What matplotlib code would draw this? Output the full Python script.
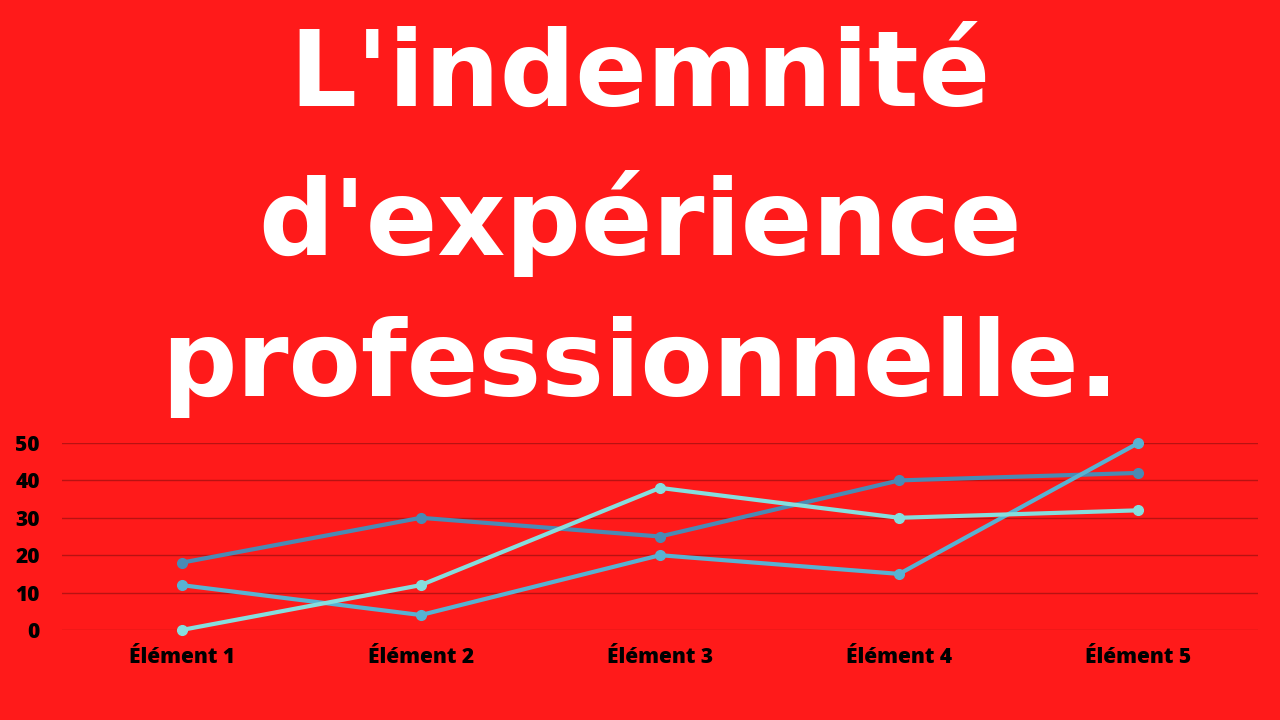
import matplotlib.pyplot as plt
import numpy as np

# couleurs
fond = "#ff1a1a"
grille = "#b81212"

# données
categories = ["Élément 1", "Élément 2", "Élément 3", "Élément 4", "Élément 5"]
serie1 = [18, 30, 25, 40, 42]
serie2 = [12, 4, 20, 15, 50]
serie3 = [0, 12, 38, 30, 32]
couleurs = ["#4a8ab4", "#58b2d2", "#86dede"]

x = np.arange(len(categories))

fig = plt.figure(figsize=(12.8, 7.2), dpi=100, facecolor=fond)

# titre en trois lignes
lignes = ["L'indemnité", "d'expérience", "professionnelle."]
ys = [0.893, 0.69, 0.49]
for txt, yy in zip(lignes, ys):
    fig.text(0.5, yy, txt, ha="center", va="center", color="white",
             fontsize=76, fontweight="heavy", family="DejaVu Sans")

ax = fig.add_axes([62 / 1280, 90 / 720, 1196 / 1280, 187 / 720])
ax.set_facecolor(fond)

for serie, c in zip([serie1, serie2, serie3], couleurs):
    ax.plot(x, serie, color=c, lw=3, marker="o", ms=7, clip_on=False, zorder=3)

ax.set_xlim(-0.5, len(categories) - 0.5)
ax.set_ylim(0, 50)
ax.set_yticks([0, 10, 20, 30, 40, 50])
ax.set_xticks(x, categories)
ax.grid(axis="y", color=grille, lw=1)
ax.set_axisbelow(True)
for s in ax.spines.values():
    s.set_visible(False)
ax.tick_params(length=0, labelsize=15, labelcolor="black")
ax.tick_params(axis="y", pad=16)
ax.tick_params(axis="x", pad=12)
for lab in ax.get_xticklabels() + ax.get_yticklabels():
    lab.set_fontweight("heavy")
    lab.set_family("Open Sans")

fig.savefig("out.png", dpi=100, facecolor=fond)
